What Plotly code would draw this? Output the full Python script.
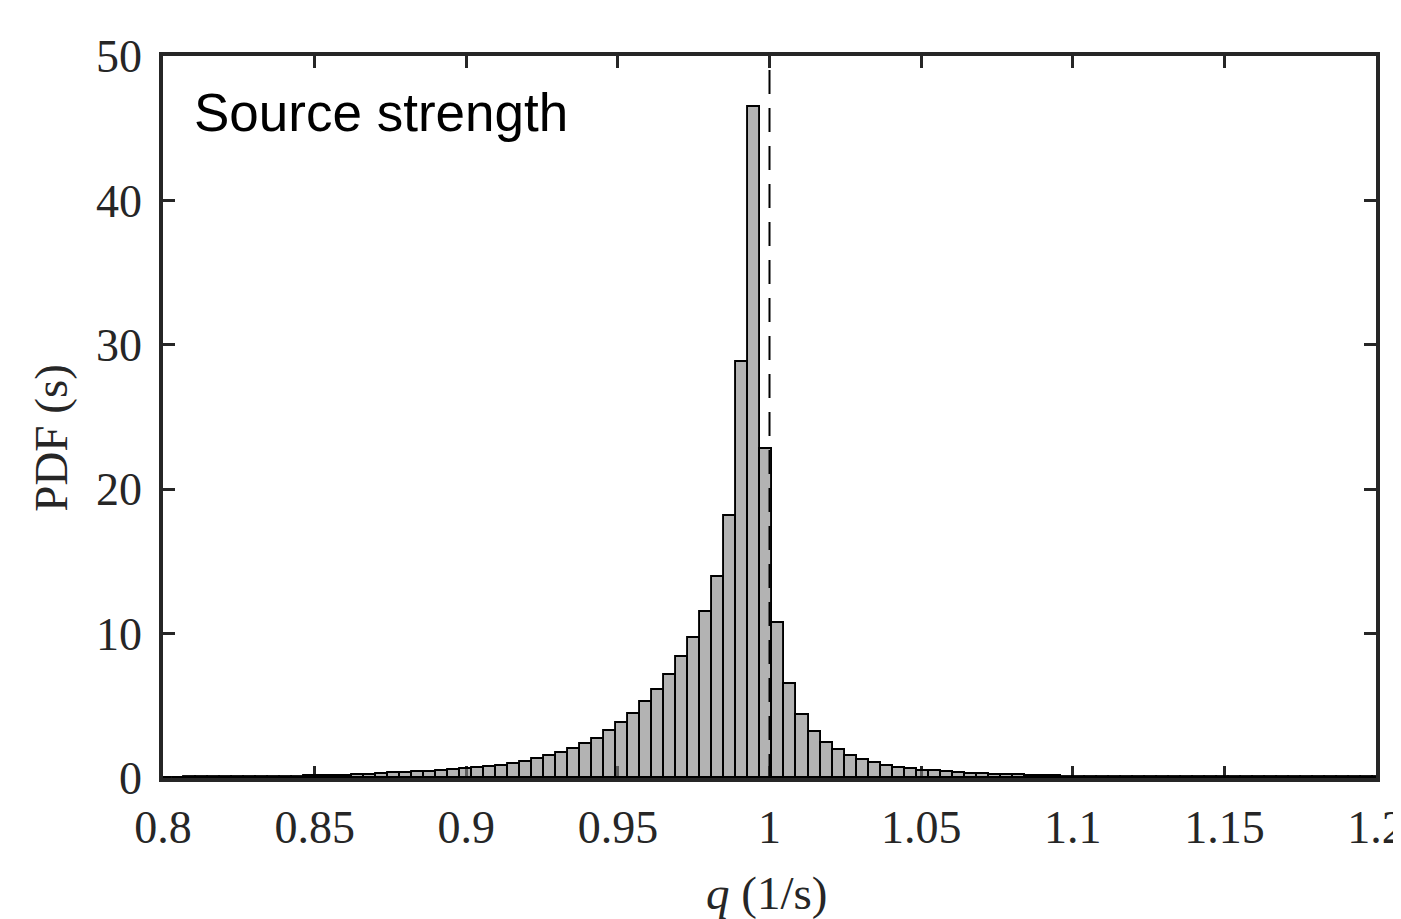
import numpy as np
import plotly.graph_objects as go

# Histogram definition
bin_first_edge = 0.79902
bin_width = 0.00396
pdf_values = [
    0.03, 0.03, 0.04, 0.04, 0.05, 0.05, 0.06, 0.06, 0.07, 0.08, 0.09, 0.10, 0.11, 0.13, 0.15, 0.17, 0.20,
    0.23, 0.28, 0.32, 0.36, 0.40, 0.44, 0.50, 0.55, 0.61, 0.68, 0.77,
    0.86, 0.99, 1.13, 1.32, 1.49, 1.73, 2.0, 2.34, 2.73, 3.24, 3.79, 4.45, 5.25, 6.1, 7.16, 8.35, 9.7,
    11.5, 13.9, 18.15, 28.8,
    46.5, 22.8, 10.7, 6.5, 4.36, 3.17, 2.45, 1.94, 1.52, 1.23, 1.04, 0.83, 0.69, 0.60, 0.51, 0.46,
    0.42, 0.37, 0.30, 0.26, 0.23, 0.20, 0.18, 0.16, 0.14, 0.12, 0.10, 0.09, 0.08, 0.07, 0.06, 0.05,
    0.05, 0.045,
    0.045, 0.04, 0.04, 0.04, 0.04, 0.04, 0.04, 0.04, 0.04, 0.04, 0.04, 0.04, 0.04, 0.04, 0.04, 0.04,
    0.04, 0.04, 0.04,
]
x_tick_vals = [0.8, 0.85, 0.9, 0.95, 1.0, 1.05, 1.1, 1.15, 1.2]
x_tick_text = ["0.8", "0.85", "0.9", "0.95", "1", "1.05", "1.1", "1.15", "1.2"]
y_tick_vals = [0, 10, 20, 30, 40, 50]
reference_q = 1.0

centers = bin_first_edge + bin_width * (np.arange(len(pdf_values)) + 0.5)

AX = "#262626"
SERIF = "Liberation Serif"

fig = go.Figure()
fig.add_trace(go.Bar(
    x=centers, y=pdf_values, width=bin_width,
    marker=dict(color="rgba(128,128,128,0.6)", line=dict(color="black", width=1.9)),
    showlegend=False, hoverinfo="skip",
))

fig.add_shape(type="line", xref="x", yref="y", x0=reference_q, x1=reference_q, y0=0, y1=50,
              line=dict(color="black", width=2, dash="24px,14px"))

axis_common = dict(
    showline=True, linecolor=AX, linewidth=3.5, mirror="allticks",
    ticks="inside", ticklen=12, tickwidth=3, tickcolor=AX,
    showgrid=False, zeroline=False, layer="below traces",
    tickfont=dict(family=SERIF, size=46, color=AX),
    ticklabeloverflow="allow",
)

fig.update_layout(
    width=1401, height=919,
    margin=dict(l=155, r=33, t=48, b=149, autoexpand=False),
    paper_bgcolor="white", plot_bgcolor="white",
    bargap=0,
    xaxis=dict(range=[0.8, 1.2], tickvals=x_tick_vals, ticktext=x_tick_text,
               ticklabelstandoff=6, **axis_common),
    yaxis=dict(range=[0, 50], tickvals=y_tick_vals, ticklabelstandoff=8, **axis_common),
    annotations=[
        dict(text="Source strength", xref="paper", yref="paper", x=0.0239, y=0.922,
             xanchor="left", yanchor="middle", showarrow=False,
             font=dict(family="Liberation Sans", size=53, color="black")),
        dict(text="<i>q</i> (1/s)", xref="paper", yref="paper", x=0.4975, y=-0.159,
             xanchor="center", yanchor="middle", showarrow=False,
             font=dict(family=SERIF, size=47, color=AX)),
        dict(text="PDF (s)", xref="paper", yref="paper", x=-0.0925, y=0.471,
             xanchor="center", yanchor="middle", showarrow=False, textangle=-90,
             font=dict(family=SERIF, size=47, color=AX)),
    ],
)

fig.write_html("out.html")
